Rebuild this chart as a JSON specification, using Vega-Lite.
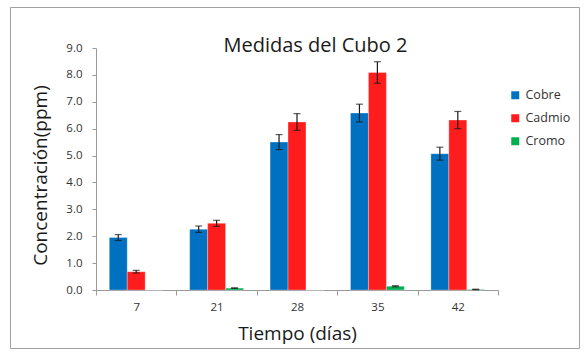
{
  "$schema": "https://vega.github.io/schema/vega-lite/v6.json",
  "width": 569,
  "height": 341,
  "autosize": {"type": "none"},
  "padding": {"left": 10, "top": 7, "right": 9, "bottom": 11},
  "background": "white",
  "config": {
    "view": {"stroke": "#a0a0a0", "strokeWidth": 1},
    "font": "Open Sans"
  },
  "title": {
    "text": "Medidas del Cubo 2",
    "fontSize": 20,
    "fontWeight": "normal",
    "font": "Open Sans",
    "color": "#1a1a1a",
    "anchor": "middle",
    "baseline": "alphabetic",
    "dx": 21,
    "offset": -65
  },
  "data": {
    "values": [
      {"day": "7", "metal": "Cobre", "value": 1.95, "lo": 1.84, "hi": 2.06},
      {"day": "7", "metal": "Cadmio", "value": 0.68, "lo": 0.63, "hi": 0.73},
      {"day": "7", "metal": "Cromo", "value": 0, "lo": null, "hi": null},
      {"day": "21", "metal": "Cobre", "value": 2.26, "lo": 2.14, "hi": 2.38},
      {"day": "21", "metal": "Cadmio", "value": 2.48, "lo": 2.37, "hi": 2.59},
      {"day": "21", "metal": "Cromo", "value": 0.07, "lo": 0.06, "hi": 0.08},
      {"day": "28", "metal": "Cobre", "value": 5.5, "lo": 5.22, "hi": 5.78},
      {"day": "28", "metal": "Cadmio", "value": 6.25, "lo": 5.94, "hi": 6.56},
      {"day": "28", "metal": "Cromo", "value": 0, "lo": null, "hi": null},
      {"day": "35", "metal": "Cobre", "value": 6.58, "lo": 6.25, "hi": 6.91},
      {"day": "35", "metal": "Cadmio", "value": 8.09, "lo": 7.69, "hi": 8.49},
      {"day": "35", "metal": "Cromo", "value": 0.14, "lo": 0.12, "hi": 0.16},
      {"day": "42", "metal": "Cobre", "value": 5.07, "lo": 4.83, "hi": 5.31},
      {"day": "42", "metal": "Cadmio", "value": 6.32, "lo": 6.0, "hi": 6.64},
      {"day": "42", "metal": "Cromo", "value": 0.02, "lo": 0.01, "hi": 0.03}
    ]
  },
  "encoding": {
    "x": {
      "field": "day",
      "type": "ordinal",
      "sort": ["7", "21", "28", "35", "42"],
      "title": "Tiempo (días)",
      "scale": {"range": [86, 488], "paddingInner": 0, "paddingOuter": 0},
      "axis": {
        "offset": -58,
        "labelAngle": 0,
        "tickBand": "extent",
        "domainColor": "#999999",
        "tickColor": "#999999",
        "tickSize": 5,
        "labelFontSize": 11.5,
        "labelColor": "#333333",
        "labelBaseline": "middle",
        "labelPadding": 12,
        "titleFontSize": 19,
        "titleFontWeight": "normal",
        "titleColor": "#1a1a1a",
        "titleX": 287,
        "titleY": 43,
        "titleBaseline": "middle",
        "titleAnchor": null,
        "titleAlign": "center"
      }
    },
    "xOffset": {
      "field": "metal",
      "type": "nominal",
      "sort": ["Cobre", "Cadmio", "Cromo"],
      "scale": {"paddingOuter": 0.74, "paddingInner": 0}
    },
    "y": {
      "type": "quantitative",
      "title": "Concentración(ppm)",
      "scale": {"domain": [0, 9], "range": [283, 41], "nice": false},
      "axis": {
        "offset": -86,
        "values": [0, 1, 2, 3, 4, 5, 6, 7, 8, 9],
        "format": ".1f",
        "labelOverlap": false,
        "grid": false,
        "domainColor": "#999999",
        "tickColor": "#999999",
        "tickSize": 4,
        "labelFontSize": 11.5,
        "labelColor": "#333333",
        "labelPadding": 10,
        "labelBaseline": "middle",
        "titleFontSize": 19,
        "titleFontWeight": "normal",
        "titleColor": "#1a1a1a",
        "titleX": -56,
        "titleY": 168,
        "titleBaseline": "middle",
        "titleAnchor": null,
        "titleAlign": "center",
        "titleAngle": -90
      }
    }
  },
  "layer": [
    {
      "mark": {"type": "bar", "stroke": "#ffffff", "strokeOpacity": 0.5, "strokeWidth": 0.6},
      "encoding": {
        "y": {"field": "value"},
        "color": {
          "field": "metal",
          "type": "nominal",
          "sort": ["Cobre", "Cadmio", "Cromo"],
          "scale": {"domain": ["Cobre", "Cadmio", "Cromo"], "range": ["#0070C0", "#FF1C1C", "#00B050"]},
          "legend": {
            "orient": "none",
            "legendX": 499,
            "legendY": 82,
            "title": null,
            "symbolType": "square",
            "symbolSize": 64,
            "symbolStrokeWidth": 0,
            "labelFontSize": 12.5,
            "labelColor": "#333333",
            "labelOffset": 4,
            "rowPadding": 10
          }
        }
      }
    },
    {
      "mark": {"type": "rule", "color": "#1a1a1a", "strokeWidth": 1.2},
      "encoding": {
        "y": {"field": "lo"},
        "y2": {"field": "hi"}
      }
    },
    {
      "mark": {"type": "tick", "color": "#1a1a1a", "size": 7, "thickness": 1.2},
      "encoding": {
        "y": {"field": "lo"}
      }
    },
    {
      "mark": {"type": "tick", "color": "#1a1a1a", "size": 7, "thickness": 1.2},
      "encoding": {
        "y": {"field": "hi"}
      }
    }
  ]
}
